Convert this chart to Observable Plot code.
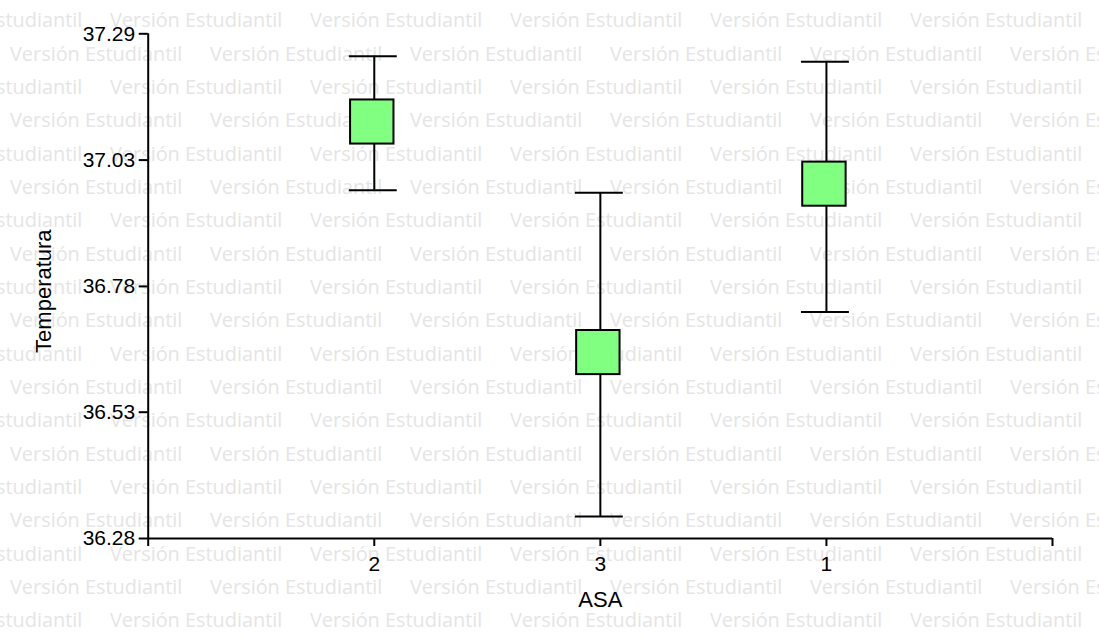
<!DOCTYPE html>
<html>
<head>
<meta charset="utf-8">
<script src="https://cdn.jsdelivr.net/npm/d3@7"></script>
<script src="https://cdn.jsdelivr.net/npm/@observablehq/plot@0.6"></script>
<style>
  html, body { margin: 0; padding: 0; background: #ffffff; }
  #wrap { position: relative; width: 1099px; height: 643px; overflow: hidden; background: #ffffff; }
  #wm { position: absolute; left: 0; top: 0; z-index: 0; }
  #chart { position: absolute; left: 0; top: 0; z-index: 1; }
</style>
</head>
<body>
<div id="wrap">
  <svg id="wm" width="1099" height="643"></svg>
  <div id="chart"></div>
</div>
<script>
// ---- Data ----
const asa = ["2", "3", "1"];
const boxLow = [37.066, 36.606, 36.942];
const boxHigh = [37.154, 36.694, 37.030];
const whiskerLow = [36.974, 36.323, 36.731];
const whiskerHigh = [37.241, 36.969, 37.230];
const yTicks = [36.279, 36.531, 36.782, 37.034, 37.286];
const xTickLabels = ["", "2", "3", "1", ""];
const watermarkText = "Versión Estudiantil";

const data = asa.map((a, i) => ({
  asa: a,
  pos: i + 1,
  bl: boxLow[i], bh: boxHigh[i],
  wl: whiskerLow[i], wh: whiskerHigh[i]
}));

// ---- Watermark (background decoration) ----
const wm = document.getElementById("wm");
const NS = "http://www.w3.org/2000/svg";
for (let k = 0; k < 19; k++) {
  const y = 27.3 + k * 33.33;
  const off = (k % 2 === 0) ? -90 : 10;
  for (let j = 0; j < 7; j++) {
    const t = document.createElementNS(NS, "text");
    t.setAttribute("x", off + j * 200);
    t.setAttribute("y", y);
    t.setAttribute("fill", "#e5e5e5");
    t.setAttribute("font-family", "'Open Sans', 'Noto Sans', sans-serif");
    t.setAttribute("font-size", "19.9");
    t.textContent = watermarkText;
    wm.appendChild(t);
  }
}

// ---- Chart ----
const boxHalf = 0.096;
const capHalf = 0.106;
const chart = Plot.plot({
  width: 1099,
  height: 643,
  marginLeft: 147.7,
  marginRight: 47,
  marginTop: 33.3,
  marginBottom: 105,
  style: { background: "transparent", fontFamily: "'Liberation Sans', Arial, sans-serif", color: "#000" },
  x: { type: "linear", domain: [0, 4] },
  y: { domain: [yTicks[0], yTicks[yTicks.length - 1]] },
  marks: [
    Plot.axisY({ ticks: yTicks, tickFormat: d3.format(".2f"), tickSize: 9, tickPadding: 4, fontSize: 21, strokeWidth: 2, label: null }),
    Plot.axisX({ ticks: [0, 1, 2, 3, 4], tickFormat: (d) => xTickLabels[d], tickSize: 8, tickPadding: 10, fontSize: 21, strokeWidth: 2, label: null }),
    Plot.ruleY([yTicks[0]], { stroke: "#000", strokeWidth: 2 }),
    Plot.ruleX([0], { stroke: "#000", strokeWidth: 2 }),
    Plot.ruleX(data, { x: "pos", y1: "wl", y2: "wh", stroke: "#000", strokeWidth: 2 }),
    Plot.ruleY(data, { y: "wh", x1: (d) => d.pos - capHalf, x2: (d) => d.pos + capHalf, dx: -1, stroke: "#000", strokeWidth: 2 }),
    Plot.ruleY(data, { y: "wl", x1: (d) => d.pos - capHalf, x2: (d) => d.pos + capHalf, dx: -1, stroke: "#000", strokeWidth: 2 }),
    Plot.rect(data, { x1: (d) => d.pos - boxHalf, x2: (d) => d.pos + boxHalf, y1: "bl", y2: "bh", dx: -2, fill: "#80ff80", stroke: "#000", strokeWidth: 2 }),
    Plot.text(["Temperatura"], { text: (d) => d, frameAnchor: "left", dx: -104, dy: 5, rotate: -90, fontSize: 22, textAnchor: "middle", lineAnchor: "middle", fill: "#000" }),
    Plot.text(["ASA"], { text: (d) => d, frameAnchor: "bottom", dy: 61.5, fontSize: 22, textAnchor: "middle", lineAnchor: "middle", fill: "#000" })
  ]
});
document.getElementById("chart").appendChild(chart);
</script>
</body>
</html>
